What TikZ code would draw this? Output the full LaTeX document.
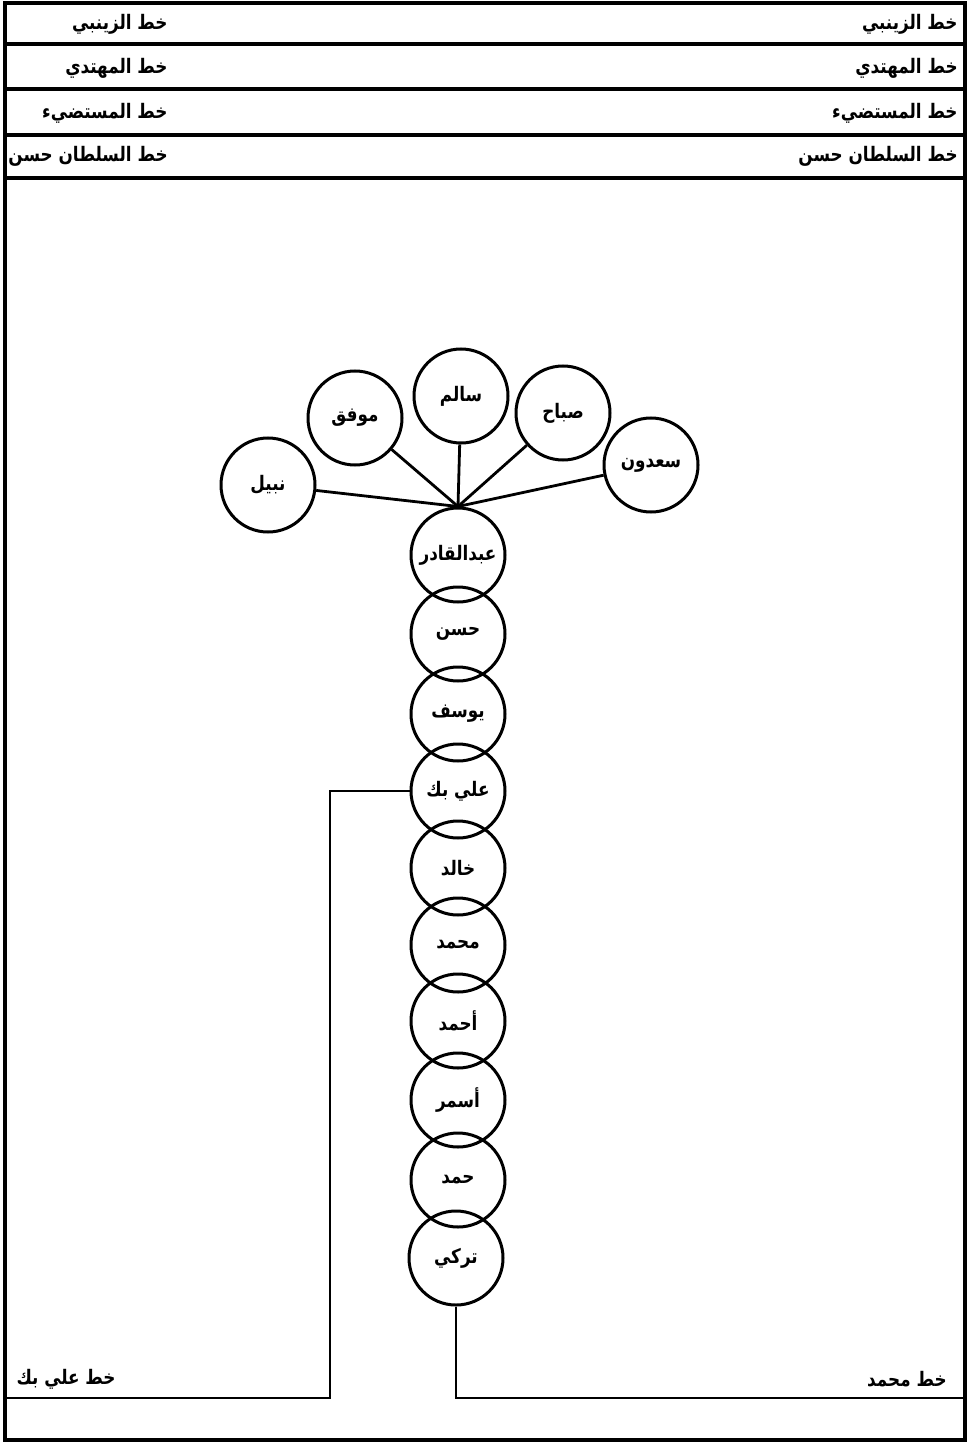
\documentclass[tikz,border=0pt]{standalone}
\usepackage{fontspec}
\newfontfamily\arabicfont[Script=Arabic]{DejaVu Sans}
\newfontfamily\arabicnarrow[Script=Arabic,FakeStretch=0.84]{DejaVu Sans}
\TeXXeTstate=1
\usetikzlibrary{positioning}

\begin{document}
\begin{tikzpicture}[
    x=0.5pt, y=-0.5pt,
    person/.style={
      draw,
      circle,
      line width=1.5pt,
      inner sep=0pt,
      minimum size=47pt,
      font=\arabicnarrow\bfseries\fontsize{10}{12}\selectfont
    },
    rowlabel/.style={
      anchor=east,
      inner sep=0pt,
      font=\arabicnarrow\bfseries\fontsize{10}{12}\selectfont
    },
    link/.style={line width=1.4pt},
    frameline/.style={line width=1.7pt}
  ]
    \useasboundingbox (0,0) rectangle (975,1444);
    \draw[frameline] (5,3) rectangle (965,1440);

    % header rows
    \foreach \y in {44,89,135,178}
      \draw[frameline] (5,\y) -- (965,\y);

    \node[rowlabel] (zaynabiR) at (958,24) {\beginR خط الزينبي\endR};
    \node[rowlabel] (zaynabiL) at (168,24) {\beginR خط الزينبي\endR};
    \node[rowlabel] (muhtadiR) at (958,68) {\beginR خط المهتدي\endR};
    \node[rowlabel] (muhtadiL) at (168,68) {\beginR خط المهتدي\endR};
    \node[rowlabel] (mustadiR) at (958,113) {\beginR خط المستضيء\endR};
    \node[rowlabel] (mustadiL) at (168,113) {\beginR خط المستضيء\endR};
    \node[rowlabel] (sultanR) at (958,156) {\beginR خط السلطان حسن\endR};
    \node[rowlabel] (sultanL) at (168,156) {\beginR خط السلطان حسن\endR};

    % trunk
    \node[person] (qadir) at (458,555) {\beginR عبدالقادر\endR};
    \node[person] (hasan) at (458,634) {\beginR حسن\endR};
    \node[person] (yusuf) at (458,714) {\beginR يوسف\endR};
    \node[person] (alibek) at (458,791) {\beginR علي بك\endR};
    \node[person] (khalid) at (458,868) {\beginR خالد\endR};
    \node[person] (mohammad) at (458,945) {\beginR محمد\endR};
    \node[person] (ahmad) at (458,1021) {\beginR أحمد\endR};
    \node[person] (asmar) at (458,1100) {\beginR أسمر\endR};
    \node[person] (hamad) at (458,1180) {\beginR حمد\endR};
    \node[person] (turki) at (456,1258) {\beginR تركي\endR};

    % sons of abd al-qadir
    \node[person] (nabil) at (268,485) {\beginR نبيل\endR};
    \node[person] (muwaffaq) at (355,418) {\beginR موفق\endR};
    \node[person] (salim) at (461,396) {\beginR سالم\endR};
    \node[person] (sabah) at (563,413) {\beginR صباح\endR};
    \node[person] (saadun) at (651,465) {\beginR سعدون\endR};

    \foreach \son in {nabil,muwaffaq,salim,sabah,saadun}
      \draw[link] (\son) -- (qadir.north);

    % branch lines
    \coordinate (aliknee) at (330,1398);
    \coordinate (alibase) at (5,1398);
    \coordinate (mohbase) at (965,1398);
    \draw[link] (alibek.west) -| (aliknee) -- (alibase);
    \draw[link] (turki.south) |- (mohbase);

    \node[rowlabel] (aliline) at (116,1379) {\beginR خط علي بك\endR};
    \node[rowlabel] (mohline) at (947,1379) {\beginR خط محمد\endR};
  \end{tikzpicture}
\end{document}
